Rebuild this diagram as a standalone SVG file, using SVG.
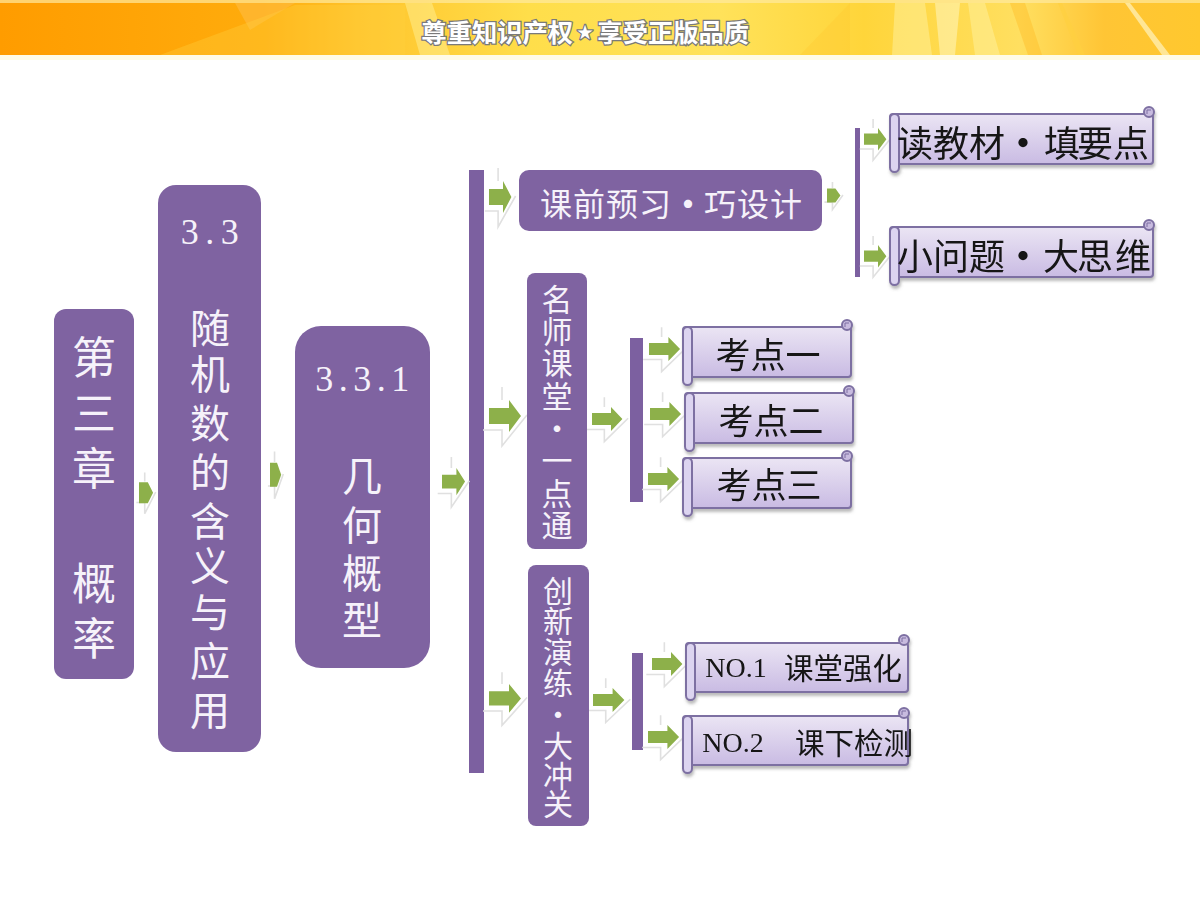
<svg xmlns="http://www.w3.org/2000/svg" width="1200" height="900" viewBox="0 0 1200 900">
<style>
.cjk{font-family:"Noto Sans CJK SC","Noto Sans",sans-serif;text-anchor:middle;dominant-baseline:central}
.num{font-family:"Liberation Serif","Noto Sans CJK SC",serif;text-anchor:middle;dominant-baseline:central}
.w{fill:#f6f2fa}.k{fill:#141414}
.box{fill:#7f63a1}
.bar{fill:#7c60a0}
.body{fill:url(#sg);stroke:#7d6fa2;stroke-width:2}
.roll{fill:#dcd4f0;stroke:#7d6fa2;stroke-width:2}
.curl{fill:#c8bbdf;stroke:#7d6fa2;stroke-width:2}
.gh{fill:none;stroke:#e0e0e0;stroke-width:1.6;vector-effect:non-scaling-stroke}
.ar{fill:#8db04a}
.d{font-weight:700}
</style>
<defs>
<linearGradient id="bg" x1="0" x2="1" y1="0" y2="0">
<stop offset="0" stop-color="#ff9c00"/><stop offset=".22" stop-color="#ffac0c"/><stop offset=".3" stop-color="#ffc42c"/><stop offset=".44" stop-color="#ffde4a"/><stop offset=".6" stop-color="#ffe25a"/><stop offset=".72" stop-color="#ffd53a"/><stop offset=".85" stop-color="#ffdf60"/><stop offset=".92" stop-color="#ffc535"/><stop offset="1" stop-color="#ffc82e"/>
</linearGradient>
<linearGradient id="sg" x1="0" x2="0" y1="0" y2="1"><stop offset="0" stop-color="#ebe5f4"/><stop offset="1" stop-color="#c9bbe3"/></linearGradient>
<filter id="sh" x="-5%" y="-10%" width="110%" height="125%"><feDropShadow dx="1" dy="3" stdDeviation="1.5" flood-color="#777" flood-opacity=".5"/></filter>
<g id="arr">
<path class="gh" d="M-6 30H13V46L38 15M13 -13V0"/>
<path class="ar" d="M0 8H20V0L32 16L20 32V24H0Z"/>
</g>
<g id="pent">
<path class="gh" d="M-6 30H13V46L38 15M13 -13V0"/>
<path class="ar" d="M0 1H20L32 16L20 31H0Z"/>
</g>
<g id="curlr"><circle class="curl" r="5"/><path d="M-2 2V-2H2" fill="none" stroke="#7d6fa2" stroke-width="1"/></g>
</defs>
<g id="banner">
<rect width="1200" height="60" fill="#fffbe6"/>
<rect width="1200" height="55" fill="url(#bg)"/>
<path d="M235 3H295L250 30Z" fill="#ffb93a" opacity=".7"/>
<path d="M160 55L295 5H405V55Z" fill="#ffd040" opacity=".35"/>
<path d="M405 3H432L450 55H420Z" fill="#fff3a0" opacity=".45"/>
<path d="M895 3H925L932 55H892Z" fill="#fff1a0" opacity=".5"/>
<path d="M935 3H960L955 55H940Z" fill="#fff6c0" opacity=".55"/>
<path d="M968 3H985L1000 55H975Z" fill="#fff1a0" opacity=".5"/>
<path d="M1010 3H1025L1042 55H1028Z" fill="#ffb820" opacity=".4"/>
<path d="M1058 3H1062L1085 55H1078Z" fill="#ffd040" opacity=".7"/>
<path d="M1125 3H1130L1170 55H1162Z" fill="#fff4c0" opacity=".7"/>
<path d="M850 3L800 55H850Z" fill="#ffc830" opacity=".35"/>
<rect width="1200" height="3" fill="#ffe9a0" opacity=".7"/>
<text class="cjk" y="31" font-size="25.3" font-weight="700" fill="#fff" stroke="#7a7a7a" stroke-width="2.5" paint-order="stroke" x="434 459.3 484.6 509.9 535.2 560.5 585 610 635.3 660.6 685.9 711.2 736.5">尊重知识产权<tspan font-size="16">★</tspan>享受正版品质</text>
</g>
<g id="connectors">
<rect class="bar" x="469" y="170" width="15" height="603"/>
<rect class="bar" x="855" y="128" width="5" height="149"/>
<rect class="bar" x="630" y="338" width="13" height="164"/>
<rect class="bar" x="632" y="653" width="11" height="97"/>
<use href="#pent" transform="translate(139 481.5) scale(.44 .7)"/>
<use href="#pent" transform="translate(270 462) scale(.35 .8)"/>
<use href="#arr" transform="translate(442 468) scale(.72 .85)"/>
<use href="#arr" transform="translate(489 181) scale(.7 1)"/>
<use href="#arr" transform="translate(489 400)"/>
<use href="#arr" transform="translate(489 684) scale(1 .9)"/>
<use href="#arr" transform="translate(592 407) scale(.95 .75)"/>
<use href="#arr" transform="translate(593 688) scale(.98 .75)"/>
<use href="#pent" transform="translate(827 188) scale(.42 .47)"/>
<use href="#arr" transform="translate(864 128) scale(.7 .7)"/>
<use href="#arr" transform="translate(864 245) scale(.7 .7)"/>
<use href="#arr" transform="translate(649 337) scale(.97 .75)"/>
<use href="#arr" transform="translate(650 402) scale(.97 .75)"/>
<use href="#arr" transform="translate(648 467) scale(.97 .75)"/>
<use href="#arr" transform="translate(652 652) scale(.95 .75)"/>
<use href="#arr" transform="translate(648 725) scale(.97 .75)"/>
</g>
<g id="n-chapter"><rect class="box" x="54" y="309" width="80" height="370" rx="12"/>
<text class="cjk w" font-size="44" x="94 94 94 94 94" y="355 411 466 581 636">第三章概率</text></g>
<g id="n-33"><rect class="box" x="158" y="185" width="103" height="567" rx="18"/>
<text class="num w" font-size="36" letter-spacing="6.5" x="213" y="232">3.3</text>
<text class="cjk w" font-size="40" x="210 210 210 210 210 210 210 210 210" y="326 372 421 470 519 564 610 659 708">随机数的含义与应用</text></g>
<g id="n-331"><rect class="box" x="295" y="326" width="135" height="342" rx="26"/>
<text class="num w" font-size="36" letter-spacing="5.5" x="365" y="379">3.3.1</text>
<text class="cjk w" font-size="40" x="362 362 362 362" y="474 523 571 618">几何概型</text></g>
<g id="n-pre"><rect class="box" x="519" y="170" width="303" height="61" rx="10"/>
<text class="cjk w" font-size="32" x="556 589 622 655 688 720 753 786" y="202 202 202 202 202 202 202 202">课前预习<tspan class="d">·</tspan>巧设计</text></g>
<g id="n-class"><rect class="box" x="527" y="273" width="60" height="276" rx="8"/>
<text class="cjk w" font-size="31" x="557 557 557 557 557 557 557 557" y="297 329 361 394 426 458 491 523">名师课堂·一点通</text></g>
<g id="n-new"><rect class="box" x="528" y="565" width="61" height="261" rx="8"/>
<text class="cjk w" font-size="30" x="558 558 558 558 558 558 558 558" y="589 619 650 681 713 744 774 802">创新演练·大冲关</text></g>
<g id="n-read" filter="url(#sh)"><rect class="body" x="890" y="114" width="263" height="50" rx="3"/><use href="#curlr" x="1149" y="112"/><rect class="roll" x="890" y="114" width="9" height="58" rx="4.5"/>
<text class="cjk k" font-size="36" x="915 951 987 1023 1062 1095 1131" y="141 141 141 141 141 141 141">读教材<tspan class="d">·</tspan>填要点</text></g>
<g id="n-q" filter="url(#sh)"><rect class="body" x="890" y="227" width="263" height="50" rx="3"/><use href="#curlr" x="1149" y="225"/><rect class="roll" x="890" y="227" width="9" height="58" rx="4.5"/>
<text class="cjk k" font-size="36" x="915 951 987 1023 1061 1095 1133" y="254 254 254 254 254 254 254">小问题<tspan class="d">·</tspan>大思维</text></g>
<g id="n-k1" filter="url(#sh)"><rect class="body" x="683" y="327" width="168" height="50" rx="3"/><use href="#curlr" x="847" y="325"/><rect class="roll" x="683" y="327" width="9" height="58" rx="4.5"/>
<text class="cjk k" font-size="35" x="768" y="352">考点一</text></g>
<g id="n-k2" filter="url(#sh)"><rect class="body" x="685" y="393" width="168" height="50" rx="3"/><use href="#curlr" x="849" y="391"/><rect class="roll" x="685" y="393" width="9" height="58" rx="4.5"/>
<text class="cjk k" font-size="35" x="771" y="418">考点二</text></g>
<g id="n-k3" filter="url(#sh)"><rect class="body" x="683" y="458" width="168" height="50" rx="3"/><use href="#curlr" x="847" y="456"/><rect class="roll" x="683" y="458" width="9" height="58" rx="4.5"/>
<text class="cjk k" font-size="35" x="769" y="482">考点三</text></g>
<g id="n-no1" filter="url(#sh)"><rect class="body" x="686" y="643" width="222" height="49" rx="3"/><use href="#curlr" x="904" y="640"/><rect class="roll" x="686" y="643" width="9" height="57" rx="4.5"/>
<text class="num k" font-size="28" x="736" y="667">NO.1</text><text class="cjk k" font-size="29.5" x="843" y="666">课堂强化</text></g>
<g id="n-no2" filter="url(#sh)"><rect class="body" x="683" y="716" width="225" height="49" rx="3"/><use href="#curlr" x="904" y="713"/><rect class="roll" x="683" y="716" width="9" height="57" rx="4.5"/>
<text class="num k" font-size="28" x="733" y="742">NO.2</text><text class="cjk k" font-size="29.5" x="854" y="741">课下检测</text></g>
</svg>
